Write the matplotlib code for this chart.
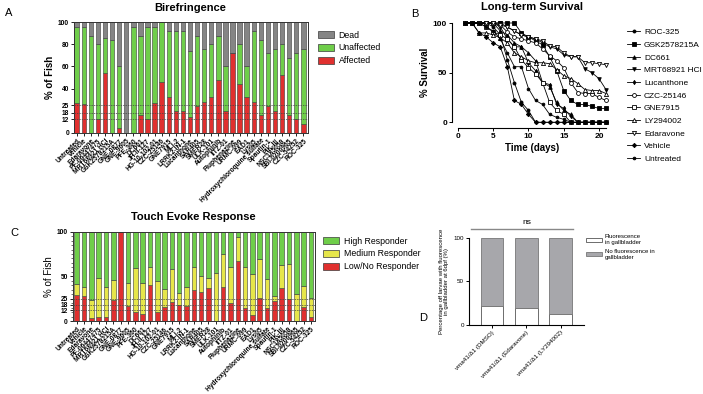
import numpy as np
import matplotlib
matplotlib.use('Agg')
import matplotlib.pyplot as plt
from matplotlib.patches import Patch

plt.rcParams['font.family'] = ['Liberation Sans', 'DejaVu Sans']

# ---------------- data ----------------
compounds = ['Untreated', 'Vehicle', 'Edaravone', 'PF-06447475', 'MRT68921 HCl',
             'GSK2578215A', 'GNE-0877', 'GNE-9605', 'PFE-360', 'DC661', 'JH-II-127',
             'HG-10-102-01', 'CZC-25146', 'GNE7915', 'MLi-2', 'LRRK2-IN-1',
             'Lucanthone', 'SAR405', 'SMER28', 'ULK-101', 'Autophinib', 'IITZ-01',
             'Fluphenazine', 'URMC-099', 'EAD1', 'Lys05',
             'Hydroxychloroquine sulfate', 'Spautin-1', 'PIK-III', 'NSC185058',
             'SBI-0206965', 'CZC-54252', 'ROC-325']

# birefringence: % affected, and top of the unaffected segment (affected + unaffected)
biref_affected = [27, 26, 0, 12, 54, 0, 4, 0, 0, 16, 12, 27, 46, 32, 20, 20, 14,
                  24, 28, 32, 48, 20, 72, 44, 32, 28, 16, 24, 20, 52, 16, 12, 8]
biref_alive = [96, 96, 88, 80, 86, 84, 60, 0, 96, 88, 96, 96, 100, 92, 92, 92, 74,
               88, 76, 80, 88, 60, 72, 80, 60, 92, 84, 72, 76, 80, 68, 72, 76]

# touch evoke: % low/no responder, and top of medium segment
touch_low = [29, 28, 3, 5, 5, 23, 100, 17, 10, 8, 40, 10, 16, 21, 18, 17, 35,
             33, 37, 0, 38, 20, 67, 15, 7, 26, 14, 22, 37, 25, 0, 16, 5]
touch_med_top = [41, 38, 24, 48, 38, 46, 100, 42, 59, 42, 60, 45, 36, 58, 31, 38, 61,
                 50, 48, 54, 75, 60, 94, 60, 53, 69, 47, 28, 63, 64, 30, 39, 26]

# long-term survival (% alive, days 1..21)
days = np.arange(1, 22)
surv_names = ['ROC-325', 'GSK2578215A', 'DC661', 'MRT68921 HCl', 'Lucanthone',
              'CZC-25146', 'GNE7915', 'LY294002', 'Edaravone', 'Vehicle', 'Untreated']
roc325 = [100, 100, 100, 100, 96, 88, 63, 40, 20, 12, 0, 0, 0, 0, 0, 0, 0, 0, 0, 0, 0]
gsk = [100, 100, 100, 100, 100, 100, 100, 100, 90, 86, 82, 78, 66, 52, 32, 22, 18, 18, 16, 14, 14]
dc661 = [100, 100, 100, 100, 100, 92, 88, 80, 76, 70, 62, 40, 36, 20, 12, 8, 0, 0, 0, 0, 0]
mrt = [100, 100, 100, 100, 100, 100, 96, 92, 88, 86, 84, 80, 76, 74, 68, 66, 66, 54, 50, 44, 33]
lucanthone = [100, 100, 100, 100, 100, 96, 84, 76, 76, 60, 52, 40, 38, 18, 14, 6, 0, 0, 0, 0, 0]
czc = [100, 100, 100, 100, 100, 98, 91, 86, 84, 82, 80, 74, 67, 62, 55, 40, 30, 29, 29, 25, 22]
gne7915 = [100, 100, 100, 96, 91, 88, 84, 76, 63, 55, 49, 40, 20, 12, 8, 0, 0, 0, 0, 0, 0]
ly294002 = [100, 100, 90, 90, 88, 85, 80, 70, 66, 62, 60, 60, 59, 53, 47, 44, 39, 33, 32, 32, 29]
edaravone = [100, 100, 100, 100, 100, 98, 96, 92, 88, 86, 84, 82, 77, 76, 70, 66, 66, 60, 60, 59, 58]
vehicle = [100, 100, 90, 86, 80, 76, 56, 22, 18, 8, 0, 0, 0, 0, 0, 0, 0, 0, 0, 0, 0]
untreated = [100, 100, 100, 96, 92, 84, 70, 56, 56, 34, 22, 18, 8, 5, 3, 0, 0, 0, 0, 0, 0]
surv_data = [roc325, gsk, dc661, mrt, lucanthone, czc, gne7915, ly294002, edaravone, vehicle, untreated]
surv_markers = [('o', True, 2.2), ('s', True, 2.6), ('^', True, 2.6), ('v', True, 2.6),
                ('d', True, 2.2), ('o', False, 2.8), ('s', False, 2.8), ('^', False, 3.0),
                ('v', False, 3.0), ('D', True, 2.2), ('o', True, 2.0)]

# gallbladder fluorescence
gb_groups = ['vma41/Δ1 (DMSO)', 'vma41/Δ1 (Edaravone)', 'vma41/Δ1 (LY294002)']
gb_fluor = [22, 20, 13]

RED = '#e0302f'
GREEN = '#6fce4a'
GREY = '#858585'
YELLOW = '#e6e64a'
EDGE = '#3a3a3a'

W, H = 703, 394
fig = plt.figure(figsize=(7.03, 3.94), dpi=100)


def px_axes(x0, y0, x1, y1):
    return fig.add_axes([x0 / W, 1 - y1 / H, (x1 - x0) / W, (y1 - y0) / H])


def style_box(ax):
    for s in ax.spines.values():
        s.set_linewidth(0.7)
        s.set_color('#333333')
    ax.tick_params(width=0.6, length=2.5, labelsize=4.8, pad=1)
    for lab in ax.get_yticklabels():
        lab.set_fontweight('bold')


# ---------------- A: birefringence ----------------
axA = px_axes(74, 22.3, 308, 132.7)
x = np.arange(len(compounds))
red = np.array(biref_affected)
alive = np.maximum(np.array(biref_alive), red)
kw = dict(width=0.62, edgecolor=EDGE, linewidth=0.4)
axA.bar(x, red, color=RED, **kw)
axA.bar(x, alive - red, bottom=red, color=GREEN, **kw)
axA.bar(x, 100 - alive, bottom=alive, color=GREY, **kw)
for yv in (12, 18, 25):
    axA.axhline(yv, color='#444444', lw=0.5, ls=(0, (2, 1.5)), zorder=5)
axA.set_xlim(-0.38, len(compounds) - 0.34)
axA.set_ylim(0, 100)
axA.set_yticks([0, 12, 18, 25, 40, 60, 80, 100])
axA.set_xticks(x)
axA.set_xticklabels(compounds, rotation=45, ha='right', rotation_mode='anchor',
                    fontsize=4.6, fontweight='bold')
axA.set_ylabel('% of Fish', fontsize=7, fontweight='bold', labelpad=2)
style_box(axA)
fig.text(190 / W, 1 - 8 / H, 'Birefringence', fontsize=8, fontweight='bold', ha='center', va='center')
fig.text(5 / W, 1 - 13 / H, 'A', fontsize=8, ha='left', va='center')
fig.legend(handles=[Patch(facecolor=GREY, edgecolor=EDGE, lw=0.5, label='Dead'),
                    Patch(facecolor=GREEN, edgecolor=EDGE, lw=0.5, label='Unaffected'),
                    Patch(facecolor=RED, edgecolor=EDGE, lw=0.5, label='Affected')],
           loc='upper left', bbox_to_anchor=(314 / W, 1 - 27 / H), frameon=False,
           fontsize=6.3, handlelength=1.9, handleheight=0.8, labelspacing=0.45,
           handletextpad=0.5, borderaxespad=0)

# ---------------- B: survival ----------------
axB = px_axes(458, 23, 606, 122.3)
for vals, (m, filled, ms), name in zip(surv_data, surv_markers, surv_names):
    axB.plot(days, vals, color='black', lw=0.6, marker=m, ms=ms,
             mfc='black' if filled else 'white', mec='black', mew=0.6,
             label=name, clip_on=False)
axB.set_xlim(0, 21)
axB.set_ylim(0, 100)
axB.set_xticks([0, 5, 10, 15, 20])
axB.set_yticks([0, 50, 100])
axB.spines['top'].set_visible(False)
axB.spines['right'].set_visible(False)
axB.spines['left'].set_position(('outward', 4))
axB.spines['bottom'].set_position(('outward', 4))
for s in ('left', 'bottom'):
    axB.spines[s].set_linewidth(0.8)
axB.tick_params(width=0.7, length=2.5, labelsize=6, pad=1.5)
for lab in axB.get_xticklabels() + axB.get_yticklabels():
    lab.set_fontweight('bold')
axB.set_xlabel('Time (days)', fontsize=7, fontweight='bold', labelpad=2)
axB.set_ylabel('% Survival', fontsize=7, fontweight='bold', labelpad=2)
fig.text(532 / W, 1 - 7 / H, 'Long-term Survival', fontsize=8, fontweight='bold', ha='center', va='center')
fig.text(411 / W, 1 - 14 / H, 'B', fontsize=8, ha='left', va='center')
hB, lB = axB.get_legend_handles_labels()
fig.legend(hB, lB, loc='upper left', bbox_to_anchor=(624 / W, 1 - 25 / H), frameon=False,
           fontsize=6.0, handlelength=1.5, labelspacing=0.58, handletextpad=0.5,
           borderaxespad=0)

# ---------------- C: touch evoke ----------------
axC = px_axes(72.7, 231.7, 315, 321)
low = np.array(touch_low)
med_top = np.maximum(np.array(touch_med_top), low)
axC.bar(x, low, color=RED, **kw)
axC.bar(x, med_top - low, bottom=low, color=YELLOW, **kw)
axC.bar(x, 100 - med_top, bottom=med_top, color=GREEN, **kw)
for yv in (12, 18, 25):
    axC.axhline(yv, color='#444444', lw=0.5, ls=(0, (2, 1.5)), zorder=5)
axC.set_xlim(-0.55, len(compounds) - 0.45)
axC.set_ylim(0, 100)
axC.set_yticks([0, 12, 18, 25, 50, 100])
axC.set_yticks(np.arange(0, 101, 5), minor=True)
axC.set_xticks(x)
axC.set_xticklabels(compounds, rotation=45, ha='right', rotation_mode='anchor',
                    fontsize=4.6, fontweight='bold')
axC.set_ylabel('% of Fish', fontsize=7, labelpad=2)
style_box(axC)
axC.tick_params(axis='y', which='minor', length=1.3, width=0.4)
fig.text(193 / W, 1 - 217 / H, 'Touch Evoke Response', fontsize=8, fontweight='bold', ha='center', va='center')
fig.text(10 / W, 1 - 233 / H, 'C', fontsize=8, ha='left', va='center')
fig.legend(handles=[Patch(facecolor=GREEN, edgecolor=EDGE, lw=0.5, label='High Responder'),
                    Patch(facecolor=YELLOW, edgecolor=EDGE, lw=0.5, label='Medium Responder'),
                    Patch(facecolor=RED, edgecolor=EDGE, lw=0.5, label='Low/No Responder')],
           loc='upper left', bbox_to_anchor=(319 / W, 1 - 233 / H), frameon=False,
           fontsize=6.3, handlelength=1.9, handleheight=0.8, labelspacing=0.45,
           handletextpad=0.5, borderaxespad=0)

# ---------------- D: gallbladder ----------------
axD = px_axes(469, 237.7, 584, 325)
xd = np.arange(len(gb_groups))
fl = np.array(gb_fluor)
axD.bar(xd, fl, width=0.66, color='white', edgecolor='#555555', lw=0.6)
axD.bar(xd, 100 - fl, width=0.66, bottom=fl, color='#a7a7ab', edgecolor='#777777', lw=0.6)
axD.set_xlim(-0.67, 2.68)
axD.set_ylim(0, 100)
axD.set_yticks([0, 50, 100])
axD.set_xticks(xd)
axD.set_xticklabels(gb_groups, rotation=45, ha='right', rotation_mode='anchor', fontsize=4.3)
axD.spines['top'].set_visible(False)
axD.spines['right'].set_visible(False)
for s in ('left', 'bottom'):
    axD.spines[s].set_linewidth(0.8)
axD.tick_params(width=0.7, length=2.5, labelsize=4.5, pad=1)
axD.set_ylabel('Percentage off larvae with fluorescence\nin gallbladder at 6dpf (%)',
               fontsize=4.3, labelpad=3, linespacing=1.1)
axD.plot([-0.6, 2.35], [110, 110], color='#888888', lw=1, clip_on=False)
axD.text(1, 113, 'ns', fontsize=6, ha='center', va='bottom')
fig.text(419 / W, 1 - 318 / H, 'D', fontsize=8, ha='left', va='center')
fig.legend(handles=[Patch(facecolor='white', edgecolor='#555555', lw=0.6,
                          label='Fluorescence\nin gallbladder'),
                    Patch(facecolor='#a7a7ab', edgecolor='#777777', lw=0.6,
                          label='No fluorescence in\ngallbladder')],
           loc='upper left', bbox_to_anchor=(584 / W, 1 - 232 / H), frameon=False,
           fontsize=4.3, handlelength=2.6, handleheight=0.7, labelspacing=0.6,
           handletextpad=0.5, borderaxespad=0)

plt.savefig('out.png', dpi=100)
